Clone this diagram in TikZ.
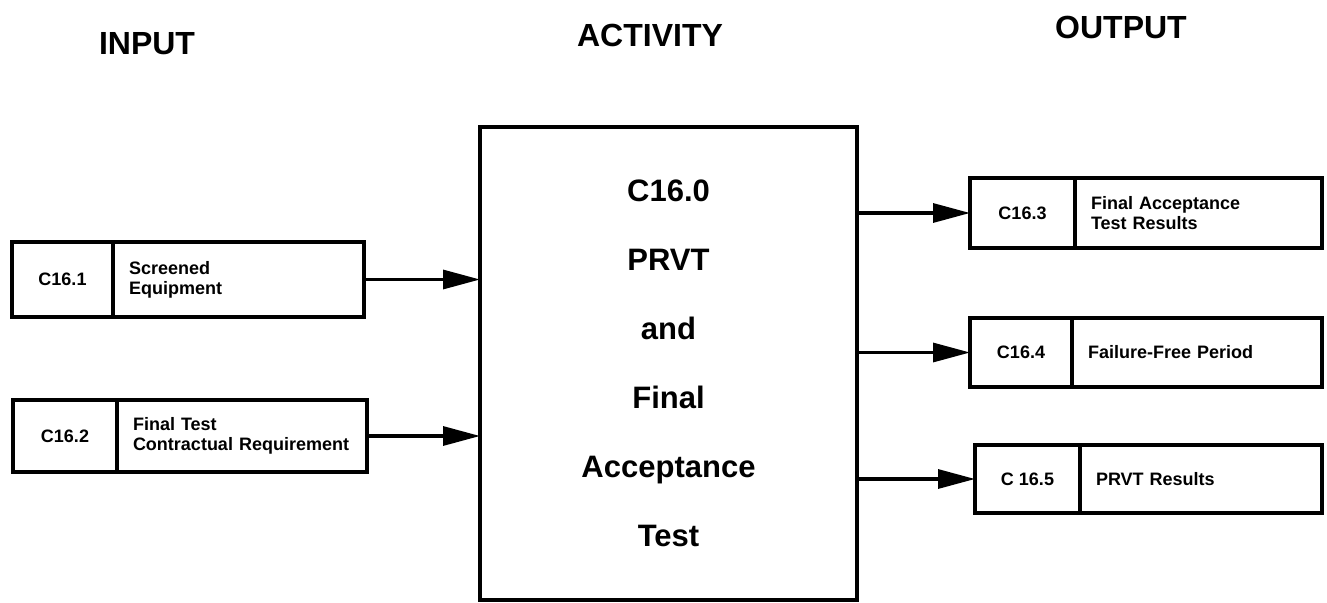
\documentclass[tikz,border=0pt]{standalone}
\usepackage{fontspec}
\setmainfont{Liberation Sans}
\usetikzlibrary{arrows.meta}
\begin{document}
\begin{tikzpicture}[x=1pt,y=-1pt,
  lw/.style={line width=3.2pt},
  header/.style={font=\bfseries\fontsize{32}{36}\selectfont, anchor=base, inner sep=0pt},
  mainbox/.style={lw, draw, align=center, minimum width=377pt, minimum height=473pt,
    outer sep=0pt, font=\bfseries\fontsize{31}{69}\selectfont},
  idcell/.style={lw, draw, anchor=north west, inner sep=0pt, outer sep=0pt, align=center,
    font=\bfseries\fontsize{18}{20}\selectfont},
  txtcell/.style={lw, draw, anchor=west, inner xsep=16pt, inner ysep=0pt, outer sep=0pt,
    align=left, font=\bfseries\fontsize{18}{20}\selectfont},
  arr/.style={lw, -{Triangle[length=37pt,width=19pt]}}
]
\useasboundingbox (0,0) rectangle (1327,602);

% headers
\node[header] (hin) at (147,55) {INPUT};
\node[header] (hact) at (650,47) {ACTIVITY};
\node[header] (hout) at (1121,38) {OUTPUT};

% main activity box
\node[mainbox] (main) at (668.5,363.5) {C16.0\\PRVT\\and\\Final\\Acceptance\\Test};

% inputs
\node[idcell, minimum width=101pt, minimum height=75pt] (c1) at (12,242) {C16.1};
\node[txtcell, text width=219pt, minimum height=75pt] (d1) at (c1.east) {Screened\\Equipment};

\node[idcell, minimum width=104pt, minimum height=72pt] (c2) at (13,400) {C16.2};
\node[txtcell, text width=218pt, minimum height=72pt] (d2) at (c2.east) {Final Test\\Contractual Requirement};

% outputs
\node[idcell, minimum width=105pt, minimum height=70pt] (c3) at (970,178) {C16.3};
\node[txtcell, text width=215pt, minimum height=70pt] (d3) at (c3.east) {Final Acceptance\\Test Results};

\node[idcell, minimum width=102pt, minimum height=69pt] (c4) at (970,318) {C16.4};
\node[txtcell, text width=218pt, minimum height=69pt] (d4) at (c4.east) {Failure-Free Period};

\node[idcell, minimum width=105pt, minimum height=68pt] (c5) at (975,445) {C 16.5};
\node[txtcell, text width=210pt, minimum height=68pt] (d5) at (c5.east) {PRVT Results};

% connectors
\draw[arr] (d1.east) -- (d1.east -| main.west);
\draw[arr] (d2.east) -- (d2.east -| main.west);
\draw[arr] (main.east |- c3.west) -- (c3.west);
\draw[arr] (main.east |- c4.west) -- (c4.west);
\draw[arr] (main.east |- c5.west) -- (c5.west);
\end{tikzpicture}
\end{document}
